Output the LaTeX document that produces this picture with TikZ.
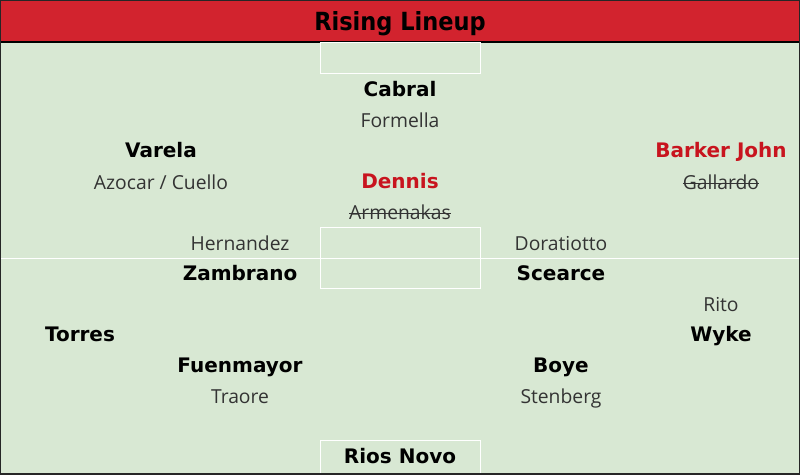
\documentclass[tikz,border=0pt]{standalone}
\usepackage{fontspec}
\setmainfont{DejaVu Sans}
\newfontfamily\subfont{Open Sans}
\newfontfamily\titlefont{DejaVu Sans Condensed}
\definecolor{pitch}{HTML}{D8E8D3}
\definecolor{barred}{HTML}{D2232E}
\definecolor{namered}{HTML}{C8141E}
\definecolor{subgray}{HTML}{333333}
\newcommand\strk[1]{\setbox0\hbox{#1}\rlap{\raisebox{0.3em}{\rule{\wd0}{0.8pt}}}\box0}
\begin{document}
\begin{tikzpicture}[x=1pt,y=-1pt,
  pname/.style={font=\bfseries\fontsize{20}{22}\selectfont,text=black,inner sep=0pt,anchor=base},
  rpname/.style={pname,text=namered},
  psub/.style={font=\subfont\fontsize{19.3}{21}\selectfont,text=subgray,inner sep=0pt,anchor=base},
  pline/.style={draw=white,line width=0.8pt}]
\useasboundingbox (0,0) rectangle (800,474);
\fill[pitch] (0,0) rectangle (800,474);
\fill[barred] (0,0) rectangle (800,42);
\draw[black,line width=1.2pt] (0,42) -- (800,42);
% pitch lines
\draw[pline] (320,42) rectangle (480,73);
\draw[pline] (320,227) rectangle (480,288);
\draw[pline] (0,258) -- (800,258);
\draw[pline] (320,474) -- (320,440) -- (480,440) -- (480,474);
\draw[black!85,line width=1.5pt] (0,0) rectangle (800,474);
\node[font=\titlefont\bfseries\fontsize{25}{27}\selectfont,inner sep=0pt,anchor=base] (title) at (400,30) {Rising Lineup};
% players
\node[pname] (cabral) at (400,96) {Cabral};
\node[psub] (formella) at (400,127.5) {Formella};
\node[pname] (varela) at (161,157.5) {Varela};
\node[psub] (azocar) at (161,189.5) {Azocar / Cuello};
\node[rpname] (barker) at (721,157.5) {Barker John};
\node[psub] (gallardo) at (721,189.5) {\strk{Gallardo}};
\node[rpname] (dennis) at (400,188.5) {Dennis};
\node[psub] (armenakas) at (400,219.5) {\strk{Armenakas}};
\node[psub] (hernandez) at (240,250) {Hernandez};
\node[pname] (zambrano) at (240,280.5) {Zambrano};
\node[psub] (doratiotto) at (561,250) {Doratiotto};
\node[pname] (scearce) at (561,280.5) {Scearce};
\node[psub] (rito) at (721,311) {Rito};
\node[pname] (wyke) at (721,341) {Wyke};
\node[pname] (torres) at (80,341) {Torres};
\node[pname] (fuenmayor) at (240,372) {Fuenmayor};
\node[psub] (traore) at (240,403) {Traore};
\node[pname] (boye) at (561,372) {Boye};
\node[psub] (stenberg) at (561,403) {Stenberg};
\node[pname] (rios) at (400,463) {Rios Novo};
\end{tikzpicture}
\end{document}
